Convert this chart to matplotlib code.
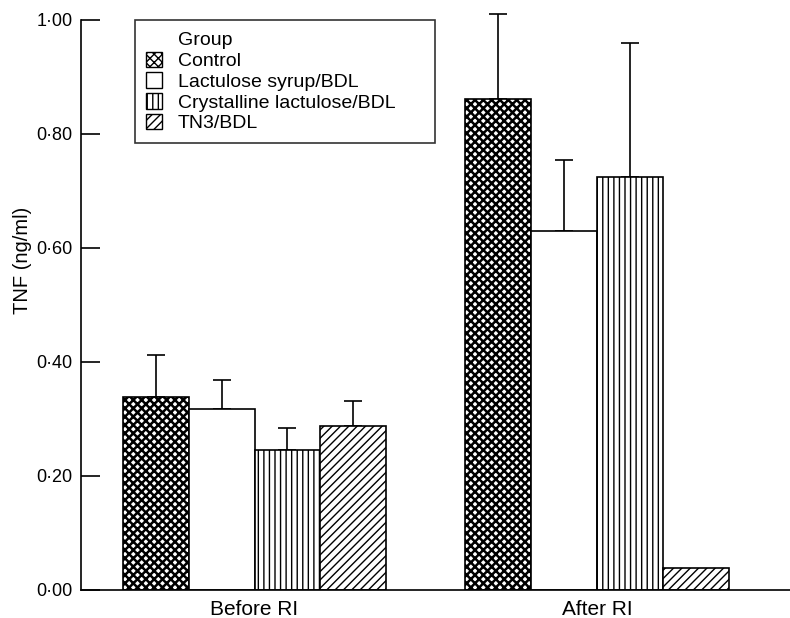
"""TNF before/after RI grouped bar chart."""

import matplotlib
matplotlib.use("Agg")
import matplotlib.pyplot as plt
import matplotlib.patches as mpatches
import numpy as np

plt.rcParams["font.family"] = ["Liberation Sans", "DejaVu Sans"]
plt.rcParams["hatch.linewidth"] = 1.0

PERIODS = ["Before RI", "After RI"]
GROUPS = ["Control", "Lactulose syrup/BDL", "Crystalline lactulose/BDL", "TN3/BDL"]
MEANS = {
    "Control": [0.338, 0.862],
    "Lactulose syrup/BDL": [0.318, 0.630],
    "Crystalline lactulose/BDL": [0.245, 0.725],
    "TN3/BDL": [0.288, 0.039],
}
SEM = {
    "Control": [0.074, 0.148],
    "Lactulose syrup/BDL": [0.050, 0.124],
    "Crystalline lactulose/BDL": [0.040, 0.234],
    "TN3/BDL": [0.044, 0.0],
}
HATCHES = ["xxxx", "", "|||", "////"]
HATCH_LW = [1.8, 1.0, 1.0, 1.0]
YTICKS = [0.0, 0.2, 0.4, 0.6, 0.8, 1.0]

W = 0.192

fig = plt.figure(figsize=(7.9, 6.18), dpi=100)
ax = fig.add_axes([81 / 790, 28 / 618, 1 - 81 / 790, 570 / 618])

x = np.arange(len(PERIODS))
handles = []
for i, g in enumerate(GROUPS):
    pos = x + (i - 1.5) * W
    with plt.rc_context({"hatch.linewidth": HATCH_LW[i]}):
        bars = ax.bar(pos, MEANS[g], width=W, facecolor="white", edgecolor="black",
                      hatch=HATCHES[i], linewidth=1.2, zorder=2)
        handles.append(mpatches.Patch(facecolor="white", edgecolor="black",
                                      hatch=HATCHES[i], linewidth=1.0, label=g))
    for b in list(bars) + [handles[-1]]:
        if hasattr(b, "set_hatch_linewidth"):
            b.set_hatch_linewidth(HATCH_LW[i])
    # one-sided (upper) error bars
    yerr = np.array([np.zeros(len(PERIODS)), SEM[g]])
    mask = np.array(SEM[g]) > 0
    ax.errorbar(pos[mask], np.array(MEANS[g])[mask], yerr=yerr[:, mask], fmt="none",
                ecolor="black", elinewidth=1.2, capsize=6.5, capthick=1.2,
                clip_on=False, zorder=1)

ax.set_xlim(-0.5066, 1.5635)
ax.set_ylim(0, 1.0)
ax.set_xticks(x)
ax.set_xticklabels(PERIODS, fontsize=15)
ax.tick_params(axis="x", length=0, pad=7)
ax.set_yticks(YTICKS)
ax.set_yticklabels([f"{v:.2f}".replace(".", "·") for v in YTICKS], fontsize=13)
ax.tick_params(axis="y", direction="in", length=14, width=1.2, pad=6)
ax.set_ylabel("TNF (ng/ml)", fontsize=14.5)
ax.yaxis.set_label_coords(-0.069, 0.579)
for s in ["top", "right"]:
    ax.spines[s].set_visible(False)
for s in ["left", "bottom"]:
    ax.spines[s].set_linewidth(1.2)

title_handle = mpatches.Patch(visible=False, label="Group")
leg = ax.legend(handles=[title_handle] + handles, loc="upper left",
                bbox_to_anchor=(135 / 790, 1 - 148 / 618, 300 / 790, 128 / 618),
                bbox_transform=fig.transFigure, mode="expand",
                borderaxespad=0, fontsize=14, frameon=True, fancybox=False,
                edgecolor="black", handlelength=0.85, handleheight=0.85,
                handletextpad=0.8, labelspacing=0.12, borderpad=0.55)
leg.get_frame().set_linewidth(1.2)

fig.savefig("out.png", dpi=100, facecolor="white")
